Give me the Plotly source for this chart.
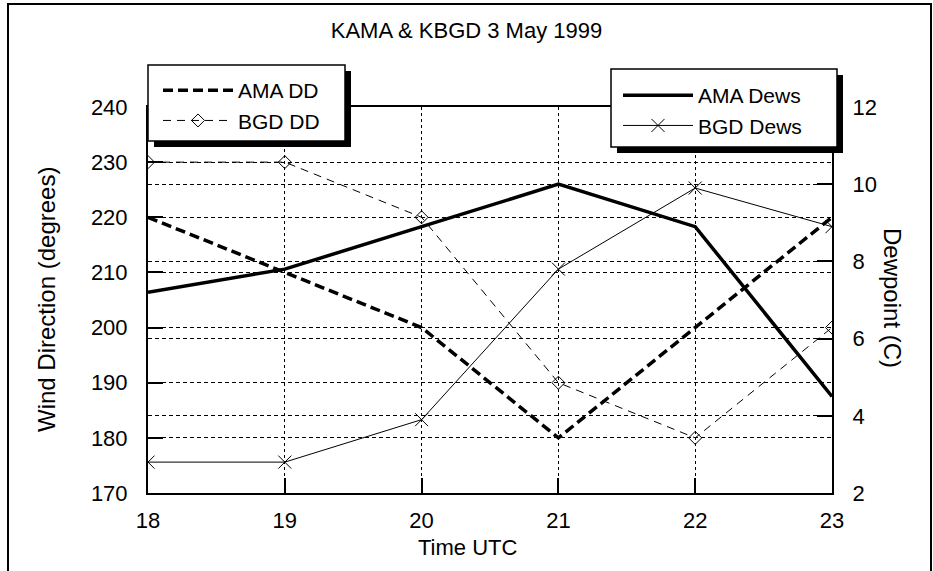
import plotly.graph_objects as go

# ---- data ----
hours = [18, 19, 20, 21, 22, 23]
ama_dd = [220, 210, 200, 180, 200, 220]
bgd_dd = [230, 230, 220, 190, 180, 200]
ama_dews = [7.2, 7.8, 8.9, 10.0, 8.9, 4.5]
bgd_dews = [2.8, 2.8, 3.9, 7.8, 9.9, 8.9]
dd_ticks = [170, 180, 190, 200, 210, 220, 230, 240]
dew_ticks = [2, 4, 6, 8, 10, 12]

W, H = 933, 571
L, R, T, B = 148, 832, 107, 493


def px(x):
    return (x - L) / (R - L)


def py(y):
    return (B - y) / (B - T)


FONT = "Liberation Sans, Arial, sans-serif"

fig = go.Figure()
fig.add_trace(go.Scatter(
    x=hours, y=ama_dd, name="AMA DD", mode="lines",
    line=dict(color="black", width=3.5, dash="10px,5px"), legend="legend"))
fig.add_trace(go.Scatter(
    x=hours, y=bgd_dd, name="BGD DD", mode="lines+markers",
    line=dict(color="black", width=1, dash="8px,6px"),
    marker=dict(symbol="diamond-open", size=10, color="black",
                line=dict(width=1, color="black")), legend="legend"))
fig.add_trace(go.Scatter(
    x=hours, y=ama_dews, name="AMA Dews", yaxis="y2", mode="lines",
    line=dict(color="black", width=3.5), legend="legend2"))
fig.add_trace(go.Scatter(
    x=hours, y=bgd_dews, name="BGD Dews", yaxis="y2", mode="lines+markers",
    line=dict(color="black", width=1),
    marker=dict(symbol="x-thin", size=13, color="black",
                line=dict(width=1, color="black")), legend="legend2"))

axis_common = dict(
    ticks="inside", ticklen=15, tickwidth=1.5, tickcolor="black",
    showline=True, linewidth=2, linecolor="black",
    showgrid=True, gridcolor="black", gridwidth=1,
    zeroline=False, tickfont=dict(size=22, color="black"),
)


def rect(x0, y0, x1, y1, **kw):
    return dict(type="rect", xref="paper", yref="paper",
                x0=px(x0), x1=px(x1), y0=py(y1), y1=py(y0), **kw)


shapes = [
    rect(8, 4, 931, 620, line=dict(color="black", width=2), layer="above"),
    rect(154, 71, 351, 147, fillcolor="black", line=dict(width=0), layer="above"),
    rect(148, 65, 345, 141, fillcolor="white", line=dict(color="black", width=1.5), layer="above"),
    rect(617, 75, 843, 153, fillcolor="black", line=dict(width=0), layer="above"),
    rect(611, 69, 837, 147, fillcolor="white", line=dict(color="black", width=1.5), layer="above"),
]

annotations = [
    dict(text="Time UTC", x=px(468), y=py(547), xref="paper", yref="paper",
         xanchor="center", yanchor="middle", showarrow=False, font=dict(size=22)),
    dict(text="Wind Direction (degrees)", x=px(46), y=py(300), xref="paper", yref="paper",
         xanchor="center", yanchor="middle", showarrow=False, textangle=-90,
         font=dict(size=24)),
    dict(text="Dewpoint (C)", x=px(893), y=py(298), xref="paper", yref="paper",
         xanchor="center", yanchor="middle", showarrow=False, textangle=90,
         font=dict(size=24)),
]

legend_common = dict(
    xanchor="left", yanchor="top", bgcolor="rgba(0,0,0,0)", borderwidth=0,
    itemwidth=70, font=dict(size=21, color="black"), tracegroupgap=0,
)

fig.update_layout(
    width=W, height=H,
    margin=dict(l=L, r=W - R, t=T, b=H - B, autoexpand=False),
    paper_bgcolor="white", plot_bgcolor="white",
    font=dict(family=FONT, size=22, color="black"),
    title=dict(text="KAMA & KBGD 3 May 1999", x=0.5, xref="container", xanchor="center",
               y=1 - 30 / H, yref="container", yanchor="middle",
               font=dict(size=22, color="black")),
    showlegend=True,
    legend=dict(x=px(158), y=py(70), **legend_common),
    legend2=dict(x=px(618), y=py(75), **legend_common),
    xaxis=dict(range=[18, 23], tickvals=hours, mirror=True, griddash="3px,3px",
               ticklabelstandoff=7, **axis_common),
    yaxis=dict(range=[170, 240], tickvals=dd_ticks, griddash="4px,3px",
               ticklabelstandoff=14, **axis_common),
    yaxis2=dict(range=[2, 12], tickvals=dew_ticks, overlaying="y", side="right",
                griddash="4px,3px", ticklabelstandoff=14, **axis_common),
    shapes=shapes,
    annotations=annotations,
)

fig.write_html("out.html", config={"displayModeBar": False},
               post_script="document.body.style.margin='0';")
